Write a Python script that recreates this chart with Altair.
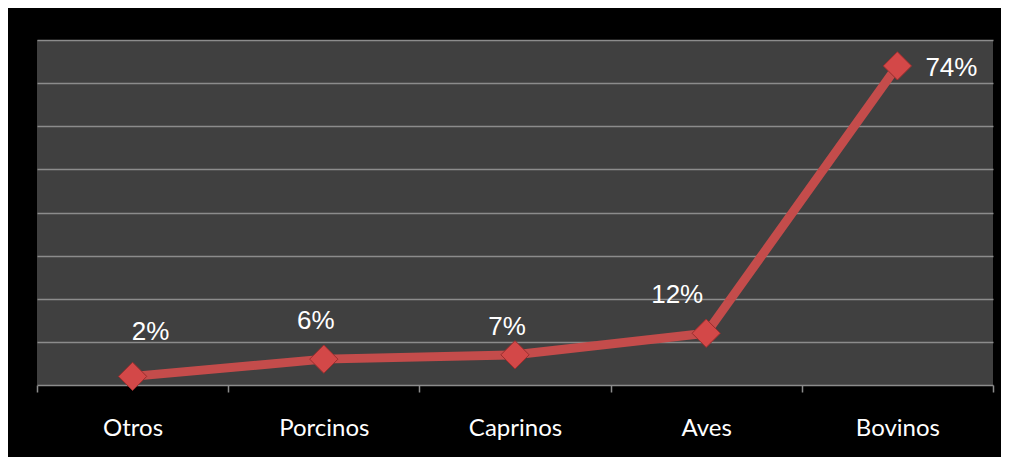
import altair as alt
import pandas as pd

categorias = ["Otros", "Porcinos", "Caprinos", "Aves", "Bovinos"]
valores = [0.02, 0.06, 0.07, 0.12, 0.74]
etiquetas = ["2%", "6%", "7%", "12%", "74%"]

df = pd.DataFrame({"cat": categorias, "val": valores, "lab": etiquetas})

x_enc = alt.X("cat:N", sort=categorias, bandPosition=0.5,
              scale=alt.Scale(type="band", paddingInner=0, paddingOuter=0),
              axis=alt.Axis(title=None, tickBand="extent", labelAngle=0,
                            labelColor="white", labelFont="Lato", labelFontSize=24,
                            labelPadding=24, tickSize=7, tickColor="#8c8c8c",
                            tickWidth=1.5, domainColor="#8c8c8c", domainWidth=1.5,
                            grid=False))
y_enc = alt.Y("val:Q", scale=alt.Scale(domain=[0, 0.8], nice=False),
              axis=alt.Axis(title=None, labels=False, ticks=False, domain=False,
                            values=[0.1, 0.2, 0.3, 0.4, 0.5, 0.6, 0.7, 0.8],
                            gridColor="#8c8c8c", gridWidth=1.5))

base = alt.Chart(df)

line = base.mark_line(color="#c44c4b", strokeWidth=9).encode(x=x_enc, y=y_enc)
pts = base.mark_point(shape="diamond", size=800, filled=True, fill="#d34848",
                      stroke="#9a2e2e", strokeWidth=1, opacity=1).encode(x=x_enc, y=y_enc)

label_style = {
    "Otros": dict(dx=18, dy=-44, align="center"),
    "Porcinos": dict(dx=-8, dy=-38, align="center"),
    "Caprinos": dict(dx=-8, dy=-28, align="center"),
    "Aves": dict(dx=-29, dy=-38, align="center"),
    "Bovinos": dict(dx=28, dy=2, align="left"),
}
texts = []
for c in categorias:
    s = label_style[c]
    texts.append(
        base.transform_filter(alt.datum.cat == c)
        .mark_text(color="white", font="Liberation Sans", fontSize=26,
                   baseline="middle", **s)
        .encode(x=x_enc, y=y_enc, text="lab:N")
    )

chart = alt.layer(line, pts, *texts).properties(
    width=956, height=345,
    background="black",
    padding={"left": 29, "top": 32, "right": 8, "bottom": 72},
    autosize=alt.AutoSizeParams(type="none"),
).configure_view(fill="#404040", stroke=None)

chart.save("out.html", embed_options={"renderer": "svg", "actions": False})
